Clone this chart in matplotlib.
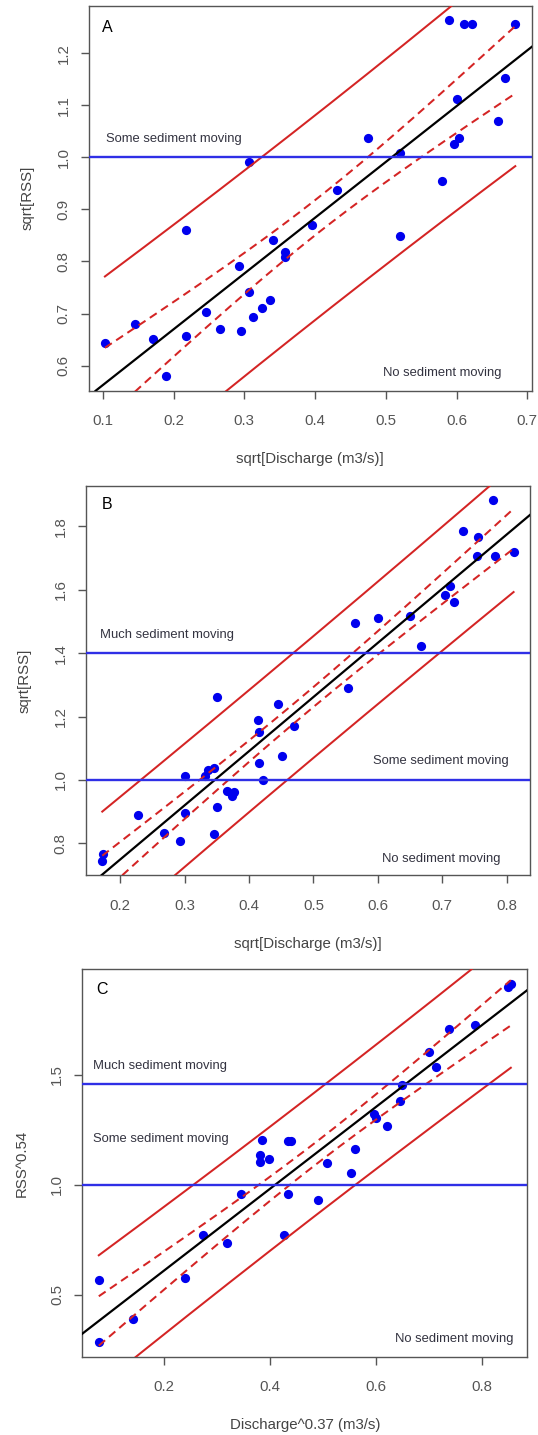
import math
import numpy as np
import matplotlib.pyplot as plt

plt.rcParams['font.family'] = ['Liberation Sans', 'DejaVu Sans']

# Panel A: sqrt discharge vs sqrt RSS
a_x = [0.103, 0.146, 0.171, 0.190, 0.217, 0.217, 0.246, 0.266, 0.292, 0.296,
       0.306, 0.306, 0.313, 0.325, 0.337, 0.341, 0.357, 0.357, 0.396, 0.431,
       0.475, 0.520, 0.520, 0.580, 0.589, 0.596, 0.600, 0.603, 0.610, 0.622,
       0.658, 0.668, 0.683]
a_y = [0.643, 0.680, 0.651, 0.579, 0.656, 0.861, 0.703, 0.671, 0.792, 0.667,
       0.991, 0.741, 0.694, 0.711, 0.726, 0.841, 0.818, 0.809, 0.870, 0.937,
       1.037, 1.008, 0.848, 0.954, 1.264, 1.025, 1.113, 1.038, 1.257, 1.257,
       1.069, 1.153, 1.257]

# Panel B
b_x = [0.173, 0.172, 0.227, 0.268, 0.293, 0.301, 0.301, 0.332, 0.336, 0.345,
       0.346, 0.350, 0.350, 0.366, 0.373, 0.376, 0.414, 0.416, 0.416, 0.421,
       0.445, 0.452, 0.470, 0.554, 0.565, 0.600, 0.650, 0.667, 0.704, 0.712,
       0.719, 0.732, 0.754, 0.756, 0.779, 0.782, 0.811]
b_y = [0.766, 0.745, 0.890, 0.833, 0.808, 1.012, 0.895, 1.012, 1.032, 1.037,
       0.830, 1.262, 0.913, 0.965, 0.950, 0.961, 1.190, 1.151, 1.054, 1.000,
       1.241, 1.075, 1.171, 1.289, 1.494, 1.512, 1.517, 1.422, 1.584, 1.613,
       1.560, 1.786, 1.708, 1.768, 1.882, 1.707, 1.719]

# Panel C: power transforms
c_x = [0.077, 0.077, 0.142, 0.240, 0.274, 0.320, 0.345, 0.382, 0.382, 0.386,
       0.398, 0.426, 0.434, 0.434, 0.440, 0.491, 0.508, 0.554, 0.560, 0.596,
       0.601, 0.622, 0.646, 0.650, 0.701, 0.714, 0.738, 0.788, 0.849, 0.855]
c_y = [0.569, 0.284, 0.392, 0.578, 0.772, 0.734, 0.956, 1.105, 1.137, 1.205,
       1.118, 0.772, 0.959, 1.197, 1.197, 0.932, 1.099, 1.053, 1.164, 1.320,
       1.303, 1.267, 1.379, 1.452, 1.604, 1.536, 1.710, 1.725, 1.900, 1.915]

a_thresholds = [1.0]
b_thresholds = [1.4, 1.0]
c_thresholds = [1.46, 1.0]

a_xticks = [0.1, 0.2, 0.3, 0.4, 0.5, 0.6, 0.7]
a_yticks = [0.6, 0.7, 0.8, 0.9, 1.0, 1.1, 1.2]
b_xticks = [0.2, 0.3, 0.4, 0.5, 0.6, 0.7, 0.8]
b_yticks = [0.8, 1.0, 1.2, 1.4, 1.6, 1.8]
c_xticks = [0.2, 0.4, 0.6, 0.8]
c_yticks = [0.5, 1.0, 1.5]

RED = '#D42424'
BLUE = '#2F2FE6'
TXT = '#333340'
GREY = '#555555'


def t_quantile(df, z=1.959964):
    # Cornish-Fisher expansion of the Student t 97.5% quantile
    return (z + (z**3 + z) / (4 * df)
            + (5 * z**5 + 16 * z**3 + 3 * z) / (96 * df**2)
            + (3 * z**7 + 19 * z**5 + 17 * z**3 - 15 * z) / (384 * df**3))


def draw_panel(ax, x, y, thresholds, xticks, yticks, xlabel, ylabel):
    x = np.asarray(x)
    y = np.asarray(y)
    n = len(x)
    slope, icpt = np.polyfit(x, y, 1)
    resid = y - (icpt + slope * x)
    s = math.sqrt(np.sum(resid**2) / (n - 2))
    t = t_quantile(n - 2)
    sxx = np.sum((x - x.mean())**2)
    xx = np.linspace(x.min(), x.max(), 200)
    fit = icpt + slope * xx
    se_mean = s * np.sqrt(1 / n + (xx - x.mean())**2 / sxx)
    se_pred = s * np.sqrt(1 + 1 / n + (xx - x.mean())**2 / sxx)

    ax.scatter(x, y, s=44, color='#0000EE', zorder=2, linewidths=0)
    ax.axline((0, icpt), slope=slope, color='black', lw=1.6, zorder=3)
    for band, ls in ((se_mean, (0, (4.1, 2.6))), (se_pred, '-')):
        ax.plot(xx, fit + t * band, color=RED, lw=1.45, ls=ls, zorder=3)
        ax.plot(xx, fit - t * band, color=RED, lw=1.45, ls=ls, zorder=3)
    for h in thresholds:
        ax.axhline(h, color=BLUE, lw=1.7, zorder=3)

    xr = x.max() - x.min()
    yr = y.max() - y.min()
    ax.set_xlim(x.min() - 0.04 * xr, x.max() + 0.04 * xr)
    ax.set_ylim(y.min() - 0.04 * yr, y.max() + 0.04 * yr)
    ax.set_xticks(xticks)
    ax.set_xticklabels(['%.1f' % v for v in xticks])
    ax.set_yticks(yticks)
    ax.set_yticklabels(['%.1f' % v for v in yticks], rotation=90, va='center')
    ax.tick_params(axis='x', length=6, width=1, color=GREY, pad=11,
                   labelsize=10.8, labelcolor=GREY)
    ax.tick_params(axis='y', length=6, width=1, color=GREY, pad=7,
                   labelsize=10.8, labelcolor=GREY)
    for sp in ax.spines.values():
        sp.set_color(GREY)
        sp.set_linewidth(1.0)
    ax.set_xlabel(xlabel, fontsize=10.8, color='#444444', va='center')
    ax.set_ylabel(ylabel, fontsize=10.8, color='#444444', va='center')
    ax.xaxis.set_label_coords(0.5, -0.176)
    ax.yaxis.set_label_coords(-0.137, 0.5)


def note(ax, x, y, s):
    ax.text(x, y, s, fontsize=9.4, color=TXT, ha='center', va='center')


fig = plt.figure(figsize=(5.38, 14.35), dpi=100)
ax1 = fig.add_axes([0.1645, 0.7277, 0.8238, 0.2683])
ax2 = fig.add_axes([0.1595, 0.3902, 0.8257, 0.2711])
ax3 = fig.add_axes([0.1530, 0.0546, 0.8271, 0.2700])

draw_panel(ax1, a_x, a_y, a_thresholds, a_xticks, a_yticks,
           'sqrt[Discharge (m3/s)]', 'sqrt[RSS]')
ax1.text(0.107, 1.25, 'A', fontsize=11.5, ha='center', va='center')
note(ax1, 0.2, 1.036, 'Some sediment moving')
note(ax1, 0.58, 0.585, 'No sediment moving')

draw_panel(ax2, b_x, b_y, b_thresholds, b_xticks, b_yticks,
           'sqrt[Discharge (m3/s)]', 'sqrt[RSS]')
ax2.text(0.179, 1.868, 'B', fontsize=11.5, ha='center', va='center')
note(ax2, 0.272, 1.458, 'Much sediment moving')
note(ax2, 0.698, 1.058, 'Some sediment moving')
note(ax2, 0.698, 0.750, 'No sediment moving')

draw_panel(ax3, c_x, c_y, c_thresholds, c_xticks, c_yticks,
           'Discharge^0.37 (m3/s)', 'RSS^0.54')
ax3.text(0.083, 1.888, 'C', fontsize=11.5, ha='center', va='center')
note(ax3, 0.1935, 1.539, 'Much sediment moving')
note(ax3, 0.195, 1.208, 'Some sediment moving')
note(ax3, 0.748, 0.299, 'No sediment moving')

fig.savefig('out.png', dpi=100)
